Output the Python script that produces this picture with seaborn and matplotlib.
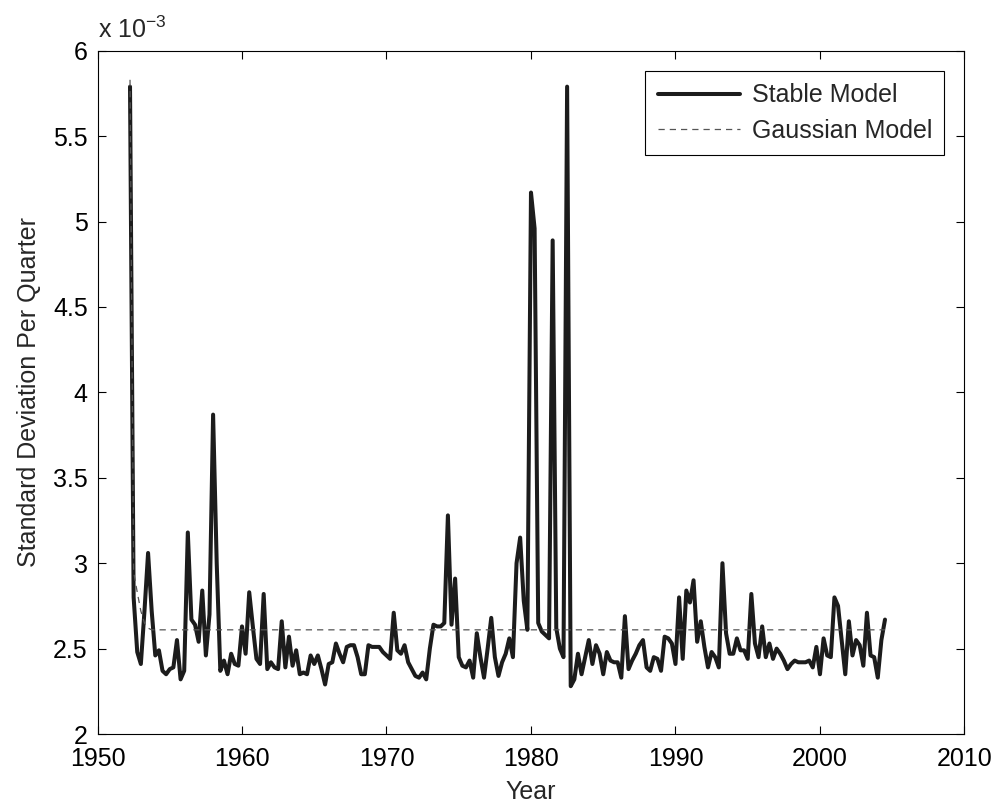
"""Quarterly standard deviation: stable vs Gaussian model (MATLAB-style figure)."""

import matplotlib

matplotlib.use("Agg")
import matplotlib.pyplot as plt
import numpy as np
import pandas as pd
import seaborn as sns

FIRST_QUARTER = 1952.25
QUARTER = 0.25

# standard deviation per quarter, in units of 1e-3
STABLE = [
    5.79, 2.80, 2.48, 2.41, 2.72, 3.06, 2.72, 2.46, 2.49, 2.37,
    2.35, 2.38, 2.39, 2.55, 2.32, 2.37, 3.18, 2.67, 2.64, 2.54,
    2.84, 2.46, 2.70, 3.87, 3.00, 2.37, 2.43, 2.35, 2.47, 2.41,
    2.40, 2.63, 2.47, 2.83, 2.63, 2.44, 2.41, 2.82, 2.38, 2.42,
    2.39, 2.38, 2.66, 2.39, 2.57, 2.40, 2.49, 2.35, 2.36, 2.35,
    2.46, 2.41, 2.46, 2.38, 2.29, 2.41, 2.42, 2.53, 2.47, 2.42,
    2.51, 2.52, 2.52, 2.45, 2.35, 2.35, 2.52, 2.51, 2.51, 2.51,
    2.48, 2.46, 2.44, 2.71, 2.49, 2.47, 2.52, 2.42, 2.38, 2.34,
    2.33, 2.36, 2.32, 2.50, 2.64, 2.63, 2.63, 2.65, 3.28, 2.64,
    2.91, 2.45, 2.40, 2.39, 2.43, 2.33, 2.59, 2.45, 2.33, 2.50,
    2.68, 2.45, 2.34, 2.42, 2.47, 2.56, 2.45, 3.00, 3.15, 2.78,
    2.61, 5.17, 4.96, 2.65, 2.60, 2.58, 2.56, 4.89, 2.62, 2.50,
    2.45, 5.79, 2.28, 2.32, 2.47, 2.35, 2.45, 2.55, 2.41, 2.52,
    2.47, 2.35, 2.48, 2.43, 2.42, 2.42, 2.33, 2.69, 2.38, 2.43,
    2.47, 2.52, 2.55, 2.39, 2.37, 2.45, 2.44, 2.37, 2.57, 2.56,
    2.53, 2.41, 2.80, 2.44, 2.84, 2.77, 2.90, 2.54, 2.66, 2.51,
    2.39, 2.48, 2.45, 2.39, 3.00, 2.59, 2.47, 2.47, 2.56, 2.49,
    2.49, 2.44, 2.82, 2.53, 2.45, 2.63, 2.45, 2.53, 2.44, 2.50,
    2.47, 2.43, 2.38, 2.41, 2.43, 2.42, 2.42, 2.42, 2.43, 2.39,
    2.51, 2.35, 2.56, 2.46, 2.45, 2.80, 2.75, 2.55, 2.35, 2.66,
    2.46, 2.55, 2.52, 2.40, 2.71, 2.46, 2.45, 2.33, 2.55, 2.67,
]
# Gaussian estimate: drops from the first quarter, then stays flat
GAUSS_START = [5.83, 2.95, 2.83, 2.72, 2.65, 2.62]
GAUSS_LEVEL = 2.61

X_TICKS = [1950, 1960, 1970, 1980, 1990, 2000, 2010]
Y_TICKS = [2, 2.5, 3, 3.5, 4, 4.5, 5, 5.5, 6]

FONT_SIZE = 18


def main() -> None:
    sns.set_theme(style="ticks")
    plt.rcParams["font.family"] = ["Liberation Sans", "DejaVu Sans"]
    plt.rcParams["mathtext.default"] = "regular"

    years = FIRST_QUARTER + QUARTER * np.arange(len(STABLE))
    gauss = GAUSS_START + [GAUSS_LEVEL] * (len(STABLE) - len(GAUSS_START))
    frame = pd.DataFrame({
        "year": years,
        "Stable Model": STABLE,
        "Gaussian Model": gauss,
    })

    fig = plt.figure(figsize=(9.98, 8.06), dpi=100)
    ax = fig.add_axes([0.0977, 0.0893, 0.9664 - 0.0977, 0.9370 - 0.0893])

    sns.lineplot(data=frame, x="year", y="Stable Model", ax=ax,
                 color="#1c1c1c", linewidth=2.9, label="Stable Model",
                 zorder=2)
    sns.lineplot(data=frame, x="year", y="Gaussian Model", ax=ax,
                 color="#555555", linewidth=0.9, linestyle=(0, (5, 4)),
                 label="Gaussian Model", zorder=3)

    ax.set_xlim(X_TICKS[0], X_TICKS[-1])
    ax.set_ylim(Y_TICKS[0], Y_TICKS[-1])
    ax.set_xticks(X_TICKS)
    ax.set_yticks(Y_TICKS)
    ax.set_yticklabels([f"{v:g}" for v in Y_TICKS])
    ax.tick_params(direction="in", length=5.8, width=0.8, top=True,
                   right=True, labelsize=FONT_SIZE, colors="black")
    ax.tick_params(axis="x", pad=9)
    ax.tick_params(axis="y", pad=7)
    for spine in ax.spines.values():
        spine.set_visible(True)
        spine.set_linewidth(0.8)
        spine.set_color("black")

    ax.set_xlabel("Year", fontsize=FONT_SIZE, labelpad=7)
    ax.set_ylabel("Standard Deviation Per Quarter", fontsize=FONT_SIZE,
                  labelpad=9)
    ax.text(0.0, 1.019, r"x 10$^{-3}$", transform=ax.transAxes,
            ha="left", va="baseline", fontsize=FONT_SIZE)

    legend = ax.legend(loc="upper right", frameon=True, fancybox=False,
                       fontsize=FONT_SIZE, handlelength=3.3,
                       handletextpad=0.45, borderaxespad=0.8,
                       borderpad=0.5, labelspacing=0.45, framealpha=1)
    legend.get_frame().set_edgecolor("black")
    legend.get_frame().set_linewidth(0.8)

    fig.savefig("out.png", dpi=100)
    plt.close(fig)


if __name__ == "__main__":
    main()
